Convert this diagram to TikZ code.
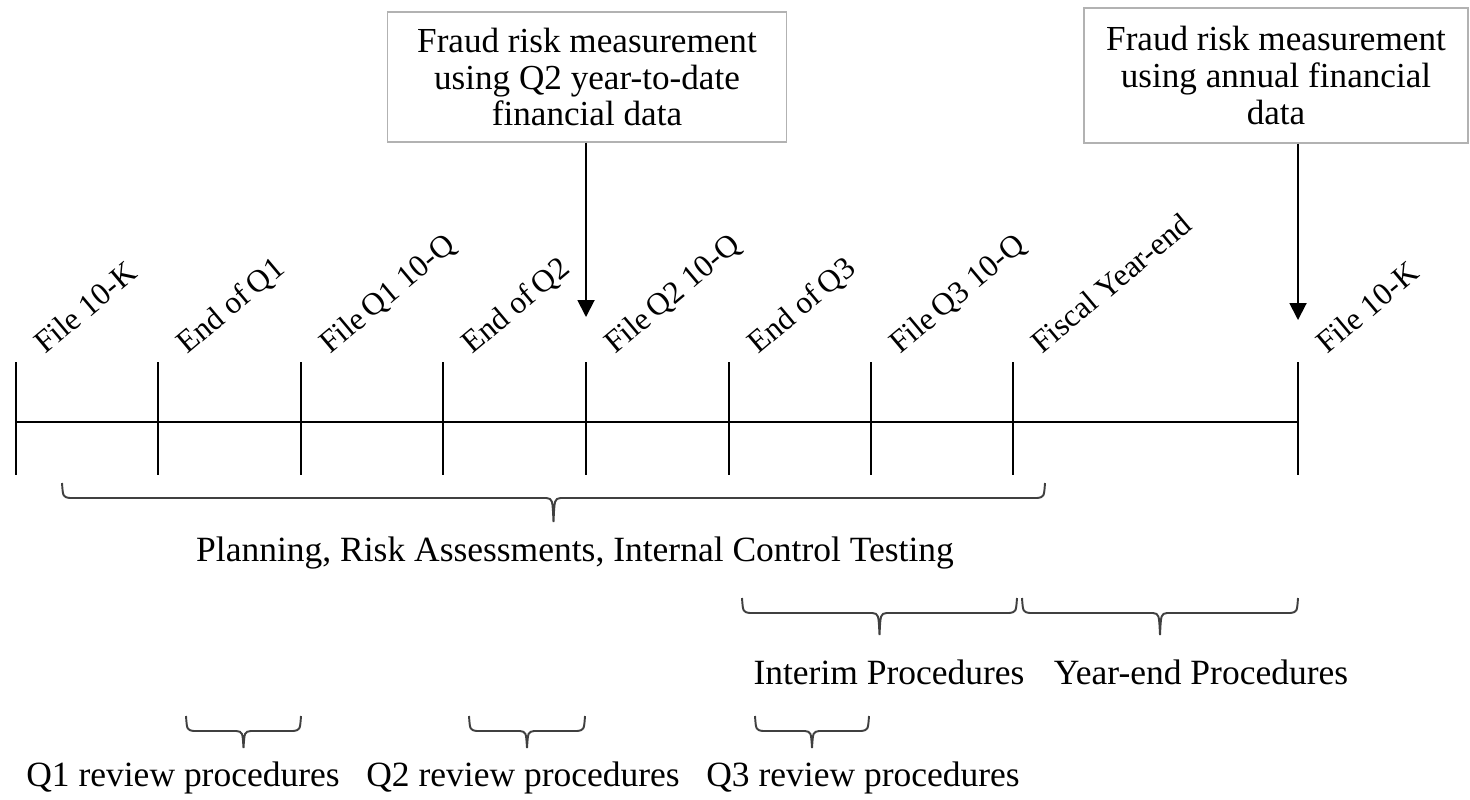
\documentclass[tikz,border=0pt]{standalone}
\usepackage{fontspec}
\setmainfont{Liberation Serif}
\usetikzlibrary{arrows.meta}

% brace under a span: left x, right x, top y, tip y (picture pixels)
\newcommand{\spanbrace}[4]{%
    \draw [spanline] (#1, #3) .. controls (#1+1, #3+14) .. (#1+8, #3+15)
        -- ({(#1+#2)/2-7}, #3+15) .. controls ({(#1+#2)/2-1}, #3+16) .. ({(#1+#2)/2}, #4)
        .. controls ({(#1+#2)/2+1}, #3+16) .. ({(#1+#2)/2+7}, #3+15)
        -- (#2-8, #3+15) .. controls (#2-1, #3+14) .. (#2, #3);}

\begin{document}
\begin{tikzpicture}[x=0.02cm, y=-0.02cm,
        tick/.style={line width=1.1pt},
        datelabel/.style={anchor=base west, rotate=40, inner sep=0pt,
            font=\fontsize{18}{20}\selectfont},
        measurebox/.style={draw=gray!60, line width=0.8pt, align=center,
            font=\fontsize{20}{21}\selectfont},
        pointer/.style={-{Triangle[width=0.34cm, length=0.34cm]}, line width=1.1pt},
        spanline/.style={line width=1.1pt, draw=black!75},
        spanlabel/.style={inner sep=0pt, font=\fontsize{20.2}{24}\selectfont}]
    \useasboundingbox (0, 0) rectangle (1470, 799);
    % time line and its ticks
    \foreach \i/\x in {0/16, 1/158, 2/301, 3/443, 4/586, 5/729, 6/871, 7/1013, 8/1298}
        \coordinate (t\i) at (\x, 422);
    \draw [tick] (t0) -- (t8);
    \foreach \i in {0, ..., 8}
        \draw [tick] (t\i) ++(0, -60) -- ++(0, 113);
    \foreach \i/\txt in {0/File 10-K, 1/End of\,Q1, 2/File\,Q1 10-Q, 3/End of\,Q2,
            4/File\,Q2 10-Q, 5/End of\,Q3, 6/File\,Q3 10-Q, 7/Fiscal Year-end, 8/File 10-K}
        \path (t\i) ++(29, -67) node [datelabel] (d\i) {\txt};
    % measurement boxes
    \node [measurebox, minimum width=7.98cm, minimum height=2.6cm] (q2box) at (587, 77)
        {Fraud risk measurement\\using Q2 year-to-date\\financial data};
    \node [measurebox, minimum width=7.68cm, minimum height=2.7cm] (fybox) at (1276, 75.5)
        {Fraud risk measurement\\using annual financial\\data};
    \coordinate (q2tip) at (586, 317);
    \coordinate (fytip) at (1298, 320);
    \draw [pointer] (q2box.south -| q2tip) -- (q2tip);
    \draw [pointer] (fybox.south -| fytip) -- (fytip);
    % braces
    \spanbrace{62}{1045}{483}{522}
    \spanbrace{742}{1017}{598}{635}
    \spanbrace{1022}{1298}{598}{635}
    \spanbrace{186}{301}{716}{748}
    \spanbrace{469}{585}{716}{748}
    \spanbrace{755}{869}{716}{748}
    \node [spanlabel] (planning) at (575, 553) {Planning, Risk Assessments, Internal Control Testing};
    \node [spanlabel] (interim) at (889, 672) {Interim Procedures};
    \node [spanlabel] (yearend) at (1201, 672) {Year-end Procedures};
    \node [spanlabel] (q1rev) at (183, 778) {Q1 review procedures};
    \node [spanlabel] (q2rev) at (523, 778) {Q2 review procedures};
    \node [spanlabel] (q3rev) at (863, 778) {Q3 review procedures};
\end{tikzpicture}
\end{document}
